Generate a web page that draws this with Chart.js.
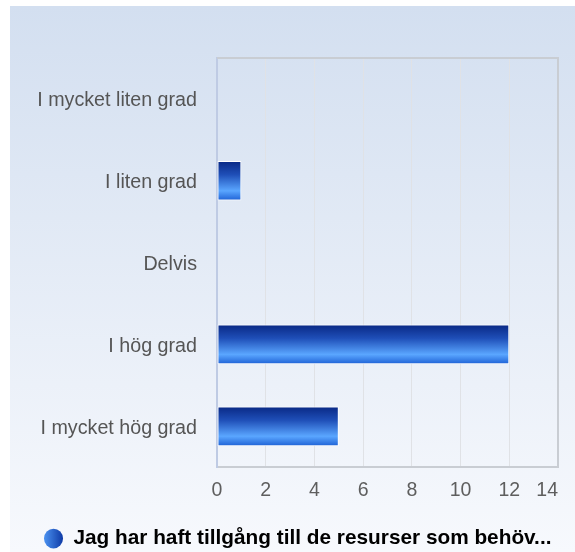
<!DOCTYPE html>
<html>
<head>
<meta charset="utf-8">
<script src="https://cdn.jsdelivr.net/npm/chart.js@4"></script>
<style>
  html, body { margin: 0; padding: 0; background: #fff; }
  #wrap { width: 575px; height: 552px; }
</style>
</head>
<body>
<div id="wrap"><canvas id="chart" width="575" height="552"></canvas></div>
<script>
const categories = ['I mycket liten grad', 'I liten grad', 'Delvis', 'I hög grad', 'I mycket hög grad'];
const values = [0, 1, 0, 12, 5];
const seriesName = 'Jag har haft tillgång till de resurser som behöv...';
const xMax = 14;
const xStep = 2;

// vertical gradient for each bar, placed on its own row
function barFill(c) {
  const chart = c.chart;
  const y = chart.scales.y;
  if (!chart.chartArea || !y || c.dataIndex === undefined) return '#2f6fd8';
  const mid = y.getPixelForValue(c.dataIndex);
  const half = 20;
  const g = chart.ctx.createLinearGradient(0, mid - half, 0, mid + half);
  g.addColorStop(0, '#082783');
  g.addColorStop(0.35, '#1f4fb8');
  g.addColorStop(0.75, '#5aa6ff');
  g.addColorStop(1, '#1c5fd4');
  return g;
}

const bgPlugin = {
  id: 'bg',
  beforeDraw(chart) {
    const ctx = chart.ctx;
    ctx.save();
    ctx.fillStyle = '#ffffff';
    ctx.fillRect(0, 0, chart.width, chart.height);
    const g = ctx.createLinearGradient(0, 6, 0, chart.height);
    g.addColorStop(0, '#d3dff0');
    g.addColorStop(1, '#f7f9fd');
    ctx.fillStyle = g;
    ctx.fillRect(10, 6, chart.width - 10, chart.height - 6);
    ctx.restore();
  },
  afterDraw(chart) {
    // top frame line of the plot area
    const { ctx, chartArea: a } = chart;
    ctx.save();
    ctx.strokeStyle = '#c9cdd3';
    ctx.lineWidth = 2;
    ctx.beginPath();
    ctx.moveTo(a.left, a.top);
    ctx.lineTo(a.right + 1, a.top);
    ctx.stroke();
    ctx.restore();
  }
};

const ctx = document.getElementById('chart').getContext('2d');
const legendCircle = ctx.createLinearGradient(44, 0, 63, 0);
legendCircle.addColorStop(0, '#4b92f0');
legendCircle.addColorStop(1, '#0e3aa6');

const chart = new Chart(ctx, {
  type: 'bar',
  data: {
    labels: categories,
    datasets: [{
      label: seriesName,
      data: values,
      backgroundColor: barFill,
      borderColor: '#ffffff',
      borderWidth: 1,
      borderSkipped: false,
      categoryPercentage: 1,
      barPercentage: 0.485
    }]
  },
  plugins: [bgPlugin],
  options: {
    indexAxis: 'y',
    responsive: false,
    animation: false,
    layout: { padding: { top: 58, right: 17, bottom: -7, left: 20 } },
    scales: {
      x: {
        min: 0,
        max: xMax,
        ticks: {
          stepSize: xStep,
          padding: 12,
          maxRotation: 0,
          minRotation: 0,
          autoSkip: false,
          color: '#5e5e5e',
          font: { family: 'Arial, "Liberation Sans", sans-serif', size: 19.5 },
          // keep the last label inside the frame like the original
          callback: v => v === xMax ? v + '    ' : v
        },
        grid: {
          drawTicks: false,
          color: c => c.index === xMax / xStep ? '#c9cdd3' : '#e0e2e6',
          lineWidth: c => c.index === xMax / xStep ? 2 : 1
        },
        border: { color: '#c9cdd3', width: 2 },
        afterFit(s) { s.height = 37; s.paddingRight = 0; }
      },
      y: {
        ticks: {
          padding: 20,
          labelOffset: 2,
          color: '#555555',
          font: { family: 'Arial, "Liberation Sans", sans-serif', size: 19.7 }
        },
        grid: { display: false, drawTicks: false },
        border: { color: '#bfcbe4', width: 2 },
        afterFit(s) { s.width = 197; }
      }
    },
    plugins: {
      legend: {
        position: 'bottom',
        align: 'start',
        labels: {
          usePointStyle: true,
          pointStyle: 'circle',
          pointStyleWidth: 19,
          boxWidth: 14,
          boxHeight: 14,
          padding: 24,
          color: '#25252f',
          font: { family: 'Arial, "Liberation Sans", sans-serif', size: 20.8, weight: 'bold', lineHeight: 1 },
          generateLabels: ch => [{
            text: seriesName,
            fillStyle: legendCircle,
            strokeStyle: legendCircle,
            lineWidth: 0,
            pointStyle: 'circle',
            datasetIndex: 0,
            hidden: false
          }]
        }
      },
      tooltip: { enabled: false }
    }
  }
});
</script>
</body>
</html>
